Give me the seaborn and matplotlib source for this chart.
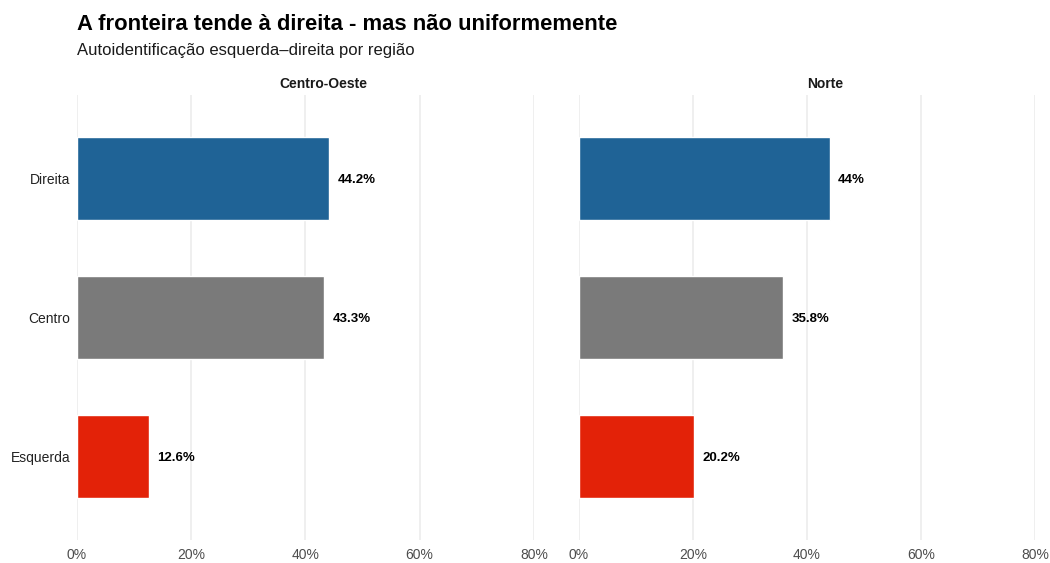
import seaborn as sns
import matplotlib.pyplot as plt
import pandas as pd

# Dados
regioes = ['Centro-Oeste', 'Norte']
categorias = ['Direita', 'Centro', 'Esquerda']
valores_centro_oeste = [44.2, 43.3, 12.6]
valores_norte = [44.0, 35.8, 20.2]
ticks_x = [0, 20, 40, 60, 80]

cores = {'Direita': '#1f6396', 'Centro': '#7a7a7a', 'Esquerda': '#e32208'}

df = pd.DataFrame({
    'Região': [regioes[0]] * 3 + [regioes[1]] * 3,
    'Posição': categorias * 2,
    'Porcentagem': valores_centro_oeste + valores_norte,
})


def gerar_grafico():
    sns.set_style('white')
    plt.rcParams['font.family'] = ['Liberation Sans', 'DejaVu Sans']

    fig = plt.figure(figsize=(10.5, 5.63), dpi=100)
    eixos = [
        fig.add_axes([0.0733, 0.0409, 0.4352, 0.7904]),
        fig.add_axes([0.5514, 0.0409, 0.4343, 0.7904]),
    ]

    for i, (eixo, regiao) in enumerate(zip(eixos, regioes)):
        sub = df[df['Região'] == regiao]
        sns.barplot(data=sub, x='Porcentagem', y='Posição', hue='Posição',
                    order=categorias, hue_order=categorias, palette=cores,
                    orient='h', width=0.6, legend=False, ax=eixo, saturation=1)

        eixo.set_xlim(0, 80)
        eixo.set_ylim(2.6, -0.6)
        eixo.set_xticks(ticks_x)
        eixo.set_xticklabels([f'{t}%' for t in ticks_x])
        eixo.grid(axis='x', color='#ebebeb', linewidth=1.1)
        eixo.grid(axis='y', visible=False)
        eixo.set_axisbelow(True)
        for lado in eixo.spines.values():
            lado.set_visible(False)
        eixo.set_xlabel('')
        eixo.set_ylabel('')
        eixo.tick_params(axis='both', length=0, labelsize=10, colors='#4d4d4d', pad=6)
        eixo.tick_params(axis='y', labelcolor='#222222', pad=5)
        if i > 0:
            eixo.set_yticklabels([])

        for barra in eixo.containers:
            rotulos = eixo.bar_label(barra, labels=[f'{p.get_width():g}%' for p in barra],
                                     padding=6, fontsize=9.5, fontweight='bold', color='black')
            for r in rotulos:
                r.set_va('center_baseline')

        eixo.set_title(regiao, fontsize=10, fontweight='bold', color='#1a1a1a',
                       pad=5, x=0.5 + 18 / 457)

    fig.text(0.0733, 0.956, 'A fronteira tende à direita - mas não uniformemente',
             fontsize=15.8, fontweight='bold', va='center', ha='left', color='black')
    fig.text(0.0733, 0.91, 'Autoidentificação esquerda–direita por região',
             fontsize=12, va='center', ha='left', color='#1a1a1a')

    plt.savefig('out.png', dpi=100)


if __name__ == '__main__':
    gerar_grafico()
